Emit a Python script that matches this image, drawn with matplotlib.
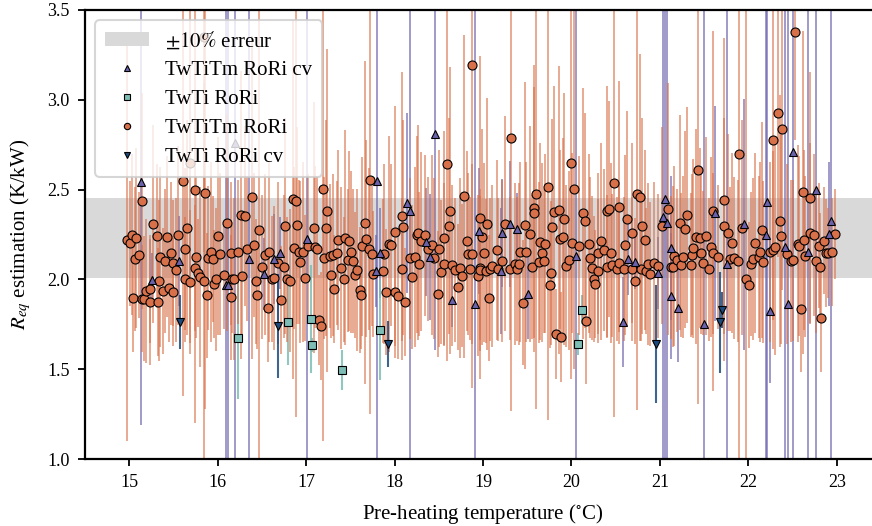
import numpy as np
import matplotlib
matplotlib.use("Agg")
import matplotlib.pyplot as plt

plt.rcParams['font.family'] = ['Liberation Serif', 'DejaVu Serif']
plt.rcParams['mathtext.fontset'] = 'stix'

# TwTiTm RoRi (circles)
tm_x = [14.98, 15.01, 15.03, 15.04, 15.07, 15.08, 15.11, 15.14, 15.15, 15.17,
        15.19, 15.23, 15.23, 15.27, 15.31, 15.33, 15.34, 15.35, 15.38, 15.40,
        15.43, 15.45, 15.47, 15.49, 15.50, 15.53, 15.55, 15.61, 15.63, 15.63,
        15.65, 15.69, 15.69, 15.74, 15.74, 15.75, 15.78, 15.80, 15.84, 15.85,
        15.86, 15.88, 15.89, 15.93, 15.95, 15.96, 15.98, 16.00, 16.03, 16.07,
        16.10, 16.15, 16.15, 16.16, 16.19, 16.23, 16.26, 16.28, 16.31, 16.33,
        16.39, 16.41, 16.43, 16.45, 16.47, 16.50, 16.53, 16.57, 16.58, 16.61,
        16.64, 16.68, 16.72, 16.75, 16.76, 16.78, 16.82, 16.85, 16.86, 16.89,
        16.90, 16.92, 16.93, 16.96, 16.99, 17.02, 17.09, 17.10, 17.12, 17.15,
        17.17, 17.19, 17.20, 17.22, 17.24, 17.27, 17.28, 17.30, 17.32, 17.35,
        17.36, 17.40, 17.43, 17.44, 17.47, 17.48, 17.51, 17.53, 17.55, 17.58,
        17.61, 17.62, 17.63, 17.67, 17.68, 17.71, 17.72, 17.75, 17.76, 17.87,
        17.88, 17.90, 17.94, 17.96, 18.01, 18.01, 18.04, 18.08, 18.08, 18.10,
        18.12, 18.17, 18.20, 18.23, 18.25, 18.27, 18.28, 18.30, 18.34, 18.38,
        18.42, 18.45, 18.49, 18.50, 18.53, 18.56, 18.56, 18.59, 18.61, 18.63,
        18.65, 18.68, 18.72, 18.74, 18.76, 18.78, 18.82, 18.83, 18.85, 18.87,
        18.88, 18.94, 18.97, 18.97, 18.97, 18.99, 19.01, 19.03, 19.05, 19.07,
        19.08, 19.10, 19.16, 19.17, 19.21, 19.25, 19.30, 19.32, 19.36, 19.39,
        19.41, 19.42, 19.45, 19.47, 19.49, 19.53, 19.55, 19.58, 19.58, 19.60,
        19.63, 19.65, 19.67, 19.69, 19.70, 19.73, 19.76, 19.77, 19.78, 19.80,
        19.82, 19.86, 19.87, 19.88, 19.91, 19.92, 19.94, 19.97, 19.99, 20.01,
        20.03, 20.08, 20.13, 20.15, 20.16, 20.20, 20.21, 20.23, 20.26, 20.27,
        20.30, 20.30, 20.33, 20.37, 20.40, 20.40, 20.42, 20.45, 20.46, 20.48,
        20.51, 20.54, 20.54, 20.59, 20.61, 20.63, 20.68, 20.69, 20.72, 20.74,
        20.77, 20.79, 20.80, 20.83, 20.84, 20.86, 20.89, 20.93, 20.98, 21.02,
        21.09, 21.13, 21.15, 21.16, 21.19, 21.23, 21.24, 21.26, 21.28, 21.31,
        21.35, 21.36, 21.38, 21.41, 21.43, 21.45, 21.47, 21.49, 21.52, 21.55,
        21.58, 21.60, 21.60, 21.66, 21.72, 21.72, 21.77, 21.79, 21.81, 21.84,
        21.88, 21.90, 21.93, 21.97, 22.01, 22.03, 22.05, 22.08, 22.12, 22.13,
        22.15, 22.17, 22.24, 22.28, 22.28, 22.30, 22.33, 22.36, 22.37, 22.38,
        22.44, 22.48, 22.50, 22.53, 22.56, 22.57, 22.60, 22.62, 22.63, 22.64,
        22.70, 22.70, 22.74, 22.77, 22.80, 22.81, 22.82, 22.85, 22.88, 22.90,
        22.95, 22.98]
tm_y = [2.219, 2.200, 2.250, 1.896, 2.112, 2.232, 2.134, 1.893, 2.437, 1.893,
        1.937, 1.948, 1.873, 2.307, 2.242, 1.873, 1.993, 2.126, 1.937, 2.104,
        2.238, 1.950, 2.145, 2.090, 1.930, 2.052, 2.245, 2.548, 2.171, 2.000,
        2.288, 1.987, 2.646, 2.498, 2.063, 2.126, 2.036, 2.015, 3.350, 1.993,
        2.479, 1.911, 2.120, 2.151, 2.112, 1.974, 2.000, 2.242, 2.140, 2.022,
        2.313, 2.145, 1.900, 2.002, 2.004, 2.151, 2.359, 2.019, 2.353, 2.171,
        2.457, 2.193, 1.989, 1.911, 2.275, 2.069, 2.138, 1.839, 2.153, 2.002,
        2.008, 2.091, 1.887, 2.071, 2.297, 2.000, 1.993, 2.446, 2.175, 2.435,
        2.301, 2.154, 2.097, 2.151, 2.008, 2.188, 2.288, 2.182, 2.168, 1.772,
        1.742, 2.502, 2.119, 2.286, 2.383, 2.132, 2.023, 2.136, 1.945, 2.147,
        2.219, 2.062, 2.000, 2.232, 2.106, 2.214, 2.151, 2.101, 2.023, 2.054,
        1.941, 1.913, 2.184, 2.316, 2.227, 2.168, 2.553, 2.140, 2.032, 2.045,
        2.140, 1.928, 2.196, 2.190, 2.264, 1.928, 1.906, 2.353, 2.056, 2.290,
        1.873, 2.117, 2.013, 2.125, 2.250, 2.260, 2.087, 2.212, 2.245, 2.169,
        2.190, 2.117, 1.920, 2.171, 2.041, 2.228, 2.087, 2.643, 2.296, 2.383,
        2.078, 2.052, 1.956, 2.063, 2.021, 2.463, 2.215, 2.143, 2.060, 2.140,
        3.194, 2.021, 2.344, 2.065, 2.051, 2.236, 2.149, 2.047, 2.308, 1.895,
        2.056, 2.076, 2.164, 2.056, 2.104, 2.310, 2.060, 2.786, 2.084, 2.058,
        2.086, 2.153, 1.871, 2.301, 2.154, 2.253, 2.069, 2.396, 2.371, 2.477,
        2.095, 2.210, 2.149, 2.104, 2.199, 2.515, 1.969, 2.036, 2.292, 2.377,
        1.694, 2.386, 2.223, 1.681, 2.238, 2.336, 2.075, 2.106, 2.648, 2.204,
        2.503, 2.188, 2.368, 2.327, 1.770, 2.199, 2.121, 2.065, 2.004, 1.974,
        2.145, 2.047, 2.212, 2.162, 2.379, 2.071, 2.392, 2.147, 2.078, 2.535,
        2.058, 2.405, 2.093, 2.058, 2.190, 2.338, 2.058, 2.257, 1.993, 2.474,
        2.457, 2.056, 2.297, 2.218, 2.047, 2.084, 2.030, 2.090, 2.076, 2.299,
        2.392, 2.067, 2.071, 2.130, 2.106, 2.316, 2.080, 2.123, 2.279, 2.360,
        2.082, 2.138, 2.173, 2.238, 2.607, 2.230, 2.147, 2.093, 2.242, 2.056,
        2.182, 2.381, 2.145, 2.126, 2.444, 2.296, 2.260, 2.112, 2.204, 2.120,
        2.104, 2.697, 2.288, 2.002, 1.969, 2.086, 2.114, 2.204, 2.125, 2.154,
        2.275, 2.097, 2.151, 2.164, 2.776, 2.180, 2.925, 2.325, 2.242, 2.839,
        2.141, 2.101, 2.106, 3.378, 2.199, 2.186, 1.834, 2.485, 2.218, 2.128,
        2.453, 2.257, 2.248, 2.104, 2.188, 2.071, 1.787, 2.216, 2.149, 2.145,
        2.153, 2.253]
tm_err = [1.12, 0.35, 0.45, 0.30, 0.40, 0.50, 0.35, 0.30, 0.60, 0.35,
          0.40, 0.30, 0.35, 0.55, 0.40, 0.30, 0.45, 0.50, 0.35, 0.40,
          0.45, 0.30, 0.40, 0.35, 0.30, 0.40, 0.50, 1.20, 0.45, 0.35,
          0.60, 0.40, 1.00, 1.30, 0.35, 0.45, 0.30, 0.50, 1.20, 1.10,
          1.20, 0.35, 0.40, 0.50, 0.35, 0.30, 0.40, 0.55, 0.45, 0.30,
          0.60, 0.40, 0.35, 0.30, 0.45, 0.40, 0.80, 0.35, 0.50, 0.40,
          0.90, 0.40, 0.35, 0.30, 1.30, 0.40, 0.45, 0.30, 0.50, 0.35,
          0.40, 0.45, 0.30, 0.40, 0.60, 0.35, 0.40, 1.00, 0.45, 1.20,
          0.55, 0.40, 0.45, 0.50, 0.35, 0.40, 0.70, 0.45, 0.40, 0.25,
          0.30, 1.40, 0.45, 0.60, 0.90, 0.40, 0.35, 0.45, 0.30, 0.40,
          0.50, 0.45, 0.35, 0.60, 0.40, 0.50, 0.45, 0.40, 0.35, 0.45,
          0.35, 0.30, 0.50, 0.90, 0.55, 0.45, 1.30, 0.40, 0.35, 0.40,
          0.50, 0.35, 0.60, 0.45, 0.70, 0.30, 0.35, 0.80, 0.40, 0.60,
          0.30, 0.45, 0.40, 0.50, 0.55, 0.60, 0.40, 0.50, 0.45, 0.40,
          0.50, 0.45, 0.35, 0.55, 0.40, 0.60, 0.45, 1.10, 0.60, 0.80,
          0.45, 0.40, 0.35, 0.50, 0.40, 0.90, 0.50, 0.45, 0.40, 0.50,
          1.80, 0.45, 0.90, 0.40, 0.45, 0.60, 0.50, 0.40, 0.70, 0.35,
          0.40, 0.45, 0.50, 0.40, 0.45, 0.60, 0.40, 1.52, 0.45, 0.40,
          0.45, 0.50, 0.35, 0.80, 0.50, 0.60, 0.40, 0.80, 0.70, 1.20,
          0.45, 0.55, 0.50, 0.40, 0.50, 1.30, 0.35, 0.40, 0.60, 0.70,
          0.25, 0.80, 0.50, 0.25, 0.55, 0.70, 0.45, 0.50, 1.20, 0.50,
          1.00, 0.50, 0.70, 0.60, 0.35, 0.50, 0.45, 0.40, 0.35, 0.30,
          0.45, 0.40, 0.55, 0.45, 0.70, 0.40, 0.60, 0.50, 0.40, 1.30,
          0.40, 0.70, 0.45, 0.40, 0.50, 0.60, 0.40, 0.50, 0.35, 1.20,
          0.80, 0.40, 0.60, 0.50, 0.35, 0.45, 0.40, 0.45, 0.40, 0.55,
          0.70, 0.40, 0.45, 0.50, 0.40, 0.60, 0.40, 0.45, 0.55, 0.60,
          0.40, 0.45, 0.50, 0.60, 1.30, 0.50, 0.45, 0.40, 0.55, 0.40,
          0.50, 1.00, 0.45, 0.40, 0.90, 0.60, 0.55, 0.40, 0.50, 0.45,
          0.45, 1.70, 0.60, 1.50, 0.35, 0.40, 0.45, 0.50, 0.45, 0.50,
          0.60, 0.45, 0.50, 0.55, 1.00, 0.60, 0.80, 0.70, 0.60, 0.90,
          0.50, 0.45, 0.45, 0.60, 0.55, 0.50, 0.35, 0.90, 0.50, 0.45,
          0.70, 0.50, 0.45, 0.40, 0.35, 0.30, 0.30, 0.30, 0.30, 0.25,
          0.30, 0.25]

# TwTiTm RoRi cv (up triangles)
cv_x = [15.13, 15.26, 15.56, 16.09, 16.12, 16.20, 16.35, 16.52, 16.64, 16.71,
        17.01, 17.79, 17.80, 17.83, 18.14, 18.17, 18.36, 18.40, 18.46, 18.65,
        18.91, 18.95, 19.20, 19.22, 19.31, 19.39, 19.51, 20.05, 20.58, 20.64,
        20.72, 20.98, 21.04, 21.06, 21.08, 21.12, 21.13, 21.20, 21.50, 21.62,
        21.76, 21.95, 22.20, 22.21, 22.25, 22.41, 22.45, 22.50, 22.68, 22.76,
        22.91, 22.93]
cv_y = [2.541, 1.997, 2.102, 1.969, 1.969, 2.758, 2.114, 2.028, 2.112, 2.147,
        2.225, 2.047, 2.546, 2.149, 2.424, 2.383, 2.208, 2.125, 2.808, 1.885,
        1.865, 2.271, 2.048, 2.260, 2.310, 2.282, 1.919, 2.130, 1.763, 2.114,
        2.095, 2.034, 2.346, 2.448, 2.312, 1.909, 2.173, 1.839, 1.750, 2.368,
        2.087, 2.307, 2.249, 2.429, 1.822, 2.182, 1.861, 2.708, 2.151, 2.500,
        2.253, 2.325]
cv_err = [1.35, 0.15, 0.25, 3.0, 3.0, 3.0, 3.0, 0.20, 0.25, 0.20,
          3.0, 0.20, 3.0, 0.25, 0.50, 3.0, 0.30, 0.35, 1.20, 0.15,
          3.0, 0.35, 0.35, 0.30, 0.35, 0.20, 0.25, 3.0, 0.25, 0.20,
          0.15, 0.20, 3.0, 3.0, 3.0, 0.35, 0.40, 0.30, 3.0, 0.60,
          3.0, 0.70, 3.0, 3.0, 0.40, 3.0, 3.0, 3.0, 3.0, 3.0,
          0.40, 3.0]

# TwTi RoRi (squares)
sq_x = [16.23, 16.80, 17.05, 17.07, 17.41, 17.83, 20.07, 20.12]
sq_y = [1.674, 1.761, 1.778, 1.633, 1.496, 1.718, 1.640, 1.831]
sq_err = [0.34, 0.24, 0.30, 0.04, 0.11, 0.28, 0.06, 0.08]

# TwTi RoRi cv (down triangles)
dn_x = [15.57, 16.68, 17.93, 20.96, 21.68, 21.70]
dn_y = [1.761, 1.742, 1.640, 1.640, 1.761, 1.830]
dn_err = [0.15, 0.29, 0.13, 0.33, 0.28, 0.10]

band_center = 2.23

c_cv = '#6b62ab'
c_sq = '#7dbdb6'
c_tm = '#d8704a'
c_dn = '#1b4a7c'

fig = plt.figure(figsize=(8.72, 5.26), dpi=100)
ax = fig.add_axes([85 / 872, 67 / 526, 796 / 872, 449 / 526])

ax.axhspan(band_center * 0.9, band_center * 1.1, color='#d9d9d9', lw=0,
           zorder=0, label=r'$\pm 10\%$ erreur')

ax.errorbar(cv_x, cv_y, yerr=cv_err, fmt='none', ecolor=c_cv, alpha=0.75,
            elinewidth=1.2, zorder=2)
ax.errorbar(sq_x, sq_y, yerr=sq_err, fmt='none', ecolor=c_sq, alpha=0.85,
            elinewidth=1.5, zorder=2)
ax.errorbar(tm_x, tm_y, yerr=tm_err, fmt='none', ecolor=c_tm, alpha=0.65,
            elinewidth=1.3, zorder=2)
ax.errorbar(dn_x, dn_y, yerr=dn_err, fmt='none', ecolor=c_dn, alpha=0.85,
            elinewidth=1.5, zorder=2)

ax.plot(cv_x, cv_y, '^', ms=6, mfc=c_cv, mec='black', mew=0.8,
        label='TwTiTm RoRi cv', zorder=4)
ax.plot(sq_x, sq_y, 's', ms=5.8, mfc=c_sq, mec='black', mew=0.8,
        label='TwTi RoRi', zorder=4)
ax.plot(tm_x, tm_y, 'o', ms=6.5, mfc=c_tm, mec='black', mew=0.8,
        label='TwTiTm RoRi', zorder=3)
ax.plot(dn_x, dn_y, 'v', ms=6, mfc=c_dn, mec='black', mew=0.8,
        label='TwTi RoRi cv', zorder=4)

ax.set_xlim(14.5, 23.5)
ax.set_ylim(1.0, 3.5)
ax.set_xticks(range(15, 24))
ax.set_yticks(np.arange(1.0, 3.51, 0.5))
ax.yaxis.set_major_formatter(matplotlib.ticker.FormatStrFormatter('%.1f'))

for s in ['top', 'bottom', 'left', 'right']:
    ax.spines[s].set_linewidth(1.6)
ax.tick_params(direction='out', length=5, width=1.3, labelsize=13, pad=6)

ax.set_xlabel(r'Pre-heating temperature ($^{\circ}$C)', fontsize=15,
              labelpad=8)
ax.set_ylabel(r'$R_{eq}$ estimation (K/kW)', fontsize=15, labelpad=10)

leg = ax.legend(loc='upper left', fontsize=15, markerscale=0.7,
                fancybox=True, framealpha=0.8, edgecolor='#cccccc',
                borderpad=0.45, handlelength=2.1, handletextpad=0.8,
                labelspacing=0.45)
leg.get_frame().set_linewidth(1.5)

fig.savefig('out.png', dpi=100)
